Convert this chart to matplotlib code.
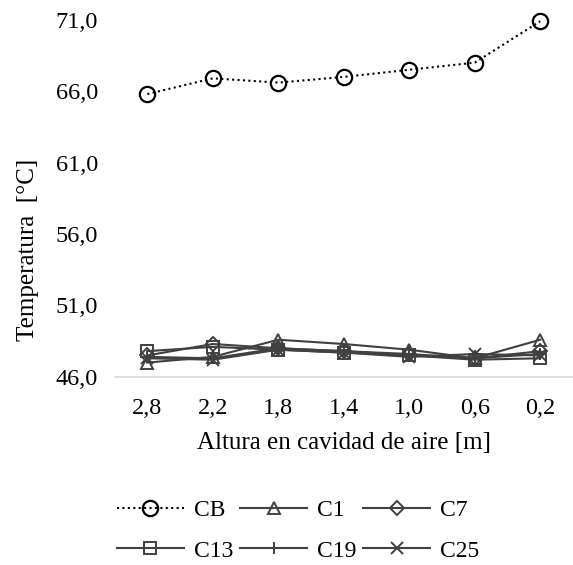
import matplotlib.pyplot as plt
import numpy as np

plt.rcParams['font.family'] = ['Liberation Serif', 'DejaVu Serif']

heights = ["2,8", "2,2", "1,8", "1,4", "1,0", "0,6", "0,2"]
cb = [65.8, 66.9, 66.6, 67.0, 67.5, 68.0, 70.9]
c1 = [47.0, 47.4, 48.6, 48.3, 47.9, 47.3, 48.6]
c7 = [47.5, 48.3, 48.0, 47.8, 47.6, 47.3, 47.8]
c13 = [47.8, 48.1, 47.9, 47.7, 47.5, 47.2, 47.3]
c19 = [47.4, 47.3, 48.0, 47.8, 47.5, 47.3, 47.6]
c25 = [47.3, 47.2, 47.9, 47.7, 47.4, 47.6, 47.5]
y_ticks = [46, 51, 56, 61, 66, 71]

fs = 18
fig = plt.figure(figsize=(5.73, 5.65), dpi=100)
ax = fig.add_axes([0.20, 0.333, 0.80, 0.632])

x = np.arange(len(heights))
grey = "#404040"
lines = {}
lines["CB"], = ax.plot(x, cb, color="black", ls=(0, (1, 1.6)), lw=1.5, marker="o",
                       ms=11, mfc="none", mec="black", mew=1.6, label="CB",
                       clip_on=False)
series = [(c1, "^", "C1"), (c7, "D", "C7"), (c13, "s", "C13"),
          (c19, "+", "C19"), (c25, "x", "C25")]
for vals, m, lab in series:
    ms = 7 if m == "D" else 9
    lines[lab], = ax.plot(x, vals, color=grey, lw=1.5, marker=m, ms=ms, mfc="none",
                          mec=grey, mew=1.4, label=lab)

ax.set_xlim(-0.5, len(heights) - 0.5)
ax.set_ylim(46, 71)
ax.set_yticks(y_ticks)
ax.set_yticklabels([f"{v:.1f}".replace(".", ",") for v in y_ticks])
ax.set_xticks(x)
ax.set_xticklabels(heights)
ax.tick_params(length=0, labelsize=17.5, colors="black")
ax.tick_params(axis="x", pad=15)
ax.tick_params(axis="y", pad=12)

for s in ["top", "right", "left"]:
    ax.spines[s].set_visible(False)
ax.spines["bottom"].set_color("#d9d9d9")
ax.spines["bottom"].set_linewidth(1.2)

ax.set_xlabel("Altura en cavidad de aire [m]", fontsize=fs)
ax.set_ylabel("Temperatura  [°C]", fontsize=fs)
# label positions in axes fraction (axes spans x 115..573 px, y 20..377 px)
ax.xaxis.set_label_coords(0.5, -0.155)
ax.yaxis.set_label_coords(-0.165, 0.356)

# legend fills column-wise, so reorder to get rows CB C1 C7 / C13 C19 C25
order = ["CB", "C13", "C1", "C19", "C7", "C25"]
fig.legend([lines[k] for k in order], order, loc="center",
           bbox_to_anchor=(0.52, 0.061), ncol=3, frameon=False,
           fontsize=17, handlelength=2.85, columnspacing=0.3, handletextpad=0.4,
           labelspacing=0.8)

fig.savefig("out.png", dpi=100)
